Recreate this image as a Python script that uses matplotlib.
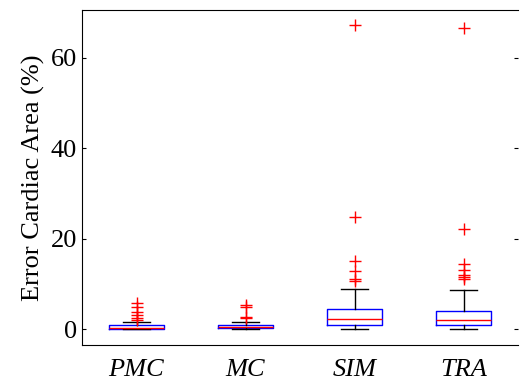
import numpy as np
import matplotlib
matplotlib.use('Agg')
import matplotlib.pyplot as plt

methods = ['PMC', 'MC', 'SIM', 'TRA']
q1 = [0.0, 0.15, 0.9, 0.9]
med = [0.3, 0.5, 2.3, 2.1]
q3 = [0.9, 1.0, 4.4, 4.1]
wlo = [0.0, 0.0, 0.0, 0.0]
whi = [1.6, 1.6, 8.9, 8.7]
fliers = [
    [2.0, 2.4, 3.1, 3.8, 4.9, 5.7],
    [2.5, 2.7, 4.8, 5.3],
    [10.7, 11.2, 12.9, 15.1, 24.9, 67.3],
    [11.0, 11.45, 11.96, 13.1, 14.4, 22.1, 66.6],
]

plt.rcParams['font.family'] = 'Liberation Serif'

stats = []
for i in range(len(methods)):
    stats.append({'label': methods[i], 'q1': q1[i], 'med': med[i], 'q3': q3[i],
                  'whislo': wlo[i], 'whishi': whi[i], 'fliers': fliers[i]})

fig = plt.figure(figsize=(5.2, 3.83), dpi=100)
ax = fig.add_axes([82/520, 38/383, 436/520, 335/383])
ax.bxp(stats, positions=[1, 2, 3, 4], widths=0.5,
       boxprops=dict(color='blue', lw=1),
       medianprops=dict(color='red', lw=1),
       whiskerprops=dict(color='black', lw=1),
       capprops=dict(color='black', lw=1),
       flierprops=dict(marker='+', markeredgecolor='red', markersize=8, mew=1))

ax.set_xlim(0.5, 4.5)
ax.set_ylim(-3.5, 70.6)
ax.set_yticks([0, 20, 40, 60])
ax.set_xticklabels(methods, fontsize=19, fontstyle='italic')
ax.tick_params(axis='y', direction='in', right=True, length=3, labelsize=19)
ax.tick_params(axis='x', length=0, pad=10)
ax.spines['right'].set_visible(False)
ax.set_ylabel('Error Cardiac Area (%)', fontsize=19)

fig.savefig('out.png', dpi=100)
